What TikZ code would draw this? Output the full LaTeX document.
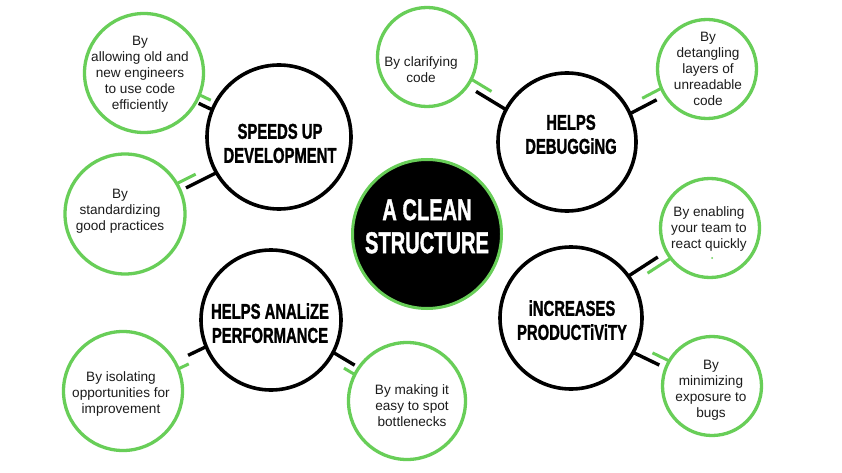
\documentclass[tikz,border=0pt]{standalone}
\usepackage{fontspec}
\setmainfont{Liberation Sans}
\newfontfamily\hubface[BoldFeatures={FakeBold=1.6}]{Liberation Sans}
\usepackage{graphicx}
\usetikzlibrary{calc}
\definecolor{lgreen}{RGB}{104,206,88}
\definecolor{ink}{RGB}{28,28,28}
\newcommand\hubfont{\hubface\fontsize{21.5}{24}\selectfont\bfseries}
\newcommand\hubtxt[2]{\scalebox{0.69}[1]{\begin{tabular}{@{}c@{}}#1\\#2\end{tabular}}}
\newcommand\linkpair[7]{%
  \coordinate (lpa) at ($(#1)!#3!(#2)$);
  \coordinate (lpb) at ($(#1)!#4!(#2)$);
  \coordinate (lpc) at ($(#2)!#5!(#1)$);
  \coordinate (lpd) at ($(#2)!#6!(#1)$);
  \draw[stubb] ($(lpa)!4pt!#7:(#2)$) -- ($(lpb)!4pt!#7:(#2)$);
  \draw[stubg] ($(lpc)!4pt!#7:(#1)$) -- ($(lpd)!4pt!#7:(#1)$);
}
\begin{document}
\begin{tikzpicture}[x=1pt,y=-1pt,
  hub/.style={circle,draw=black,line width=3.6pt,fill=white,inner sep=0pt,outer sep=0pt,minimum size=#1},
  leaf/.style={circle,draw=lgreen,line width=3.3pt,fill=white,inner sep=0pt,outer sep=0pt,minimum size=#1},
  leaftext/.style={align=center,font=\fontsize{13.6}{16}\selectfont,text=ink,inner sep=0pt},
  hubtext/.style={inner sep=0pt,text=black,font=\hubfont},
  stubb/.style={draw=black,line width=3.4pt},
  stubg/.style={draw=lgreen,line width=3pt}]
\fill[white] (0,0) rectangle (842,473);
\useasboundingbox (0,0) rectangle (842,473);

% leaves
\node[leaf=119pt] (allow) at (144,73) {};
\node[leaf=120pt] (stand) at (125,214) {};
\node[leaf=99pt] (clar) at (427,57) {};
\node[leaf=99pt] (detg) at (707,69) {};
\node[leaf=99pt] (enab) at (710,228) {};
\node[leaf=99pt] (mini) at (712,386) {};
\node[leaf=119pt] (isol) at (123,391) {};
\node[leaf=117pt] (make) at (407,401) {};

% hubs
\node[hub=144pt] (su) at (279,137) {};
\node[hub=138pt] (db) at (567,142) {};
\node[hub=140pt] (pf) at (271,320) {};
\node[hub=142pt] (pr) at (571,318) {};
\node[circle,fill=black,draw=lgreen,line width=3pt,inner sep=0pt,minimum size=149pt] (ctr) at (427,234) {};

% connectors
\linkpair{su}{allow}{72pt}{87pt}{59pt}{72pt}{90}
\linkpair{su}{stand}{72pt}{106pt}{60pt}{81pt}{90}
\linkpair{db}{clar}{69pt}{104pt}{49pt}{73pt}{90}
\linkpair{db}{detg}{69pt}{99pt}{49pt}{71pt}{-90}
\linkpair{pr}{enab}{71pt}{106pt}{49pt}{77pt}{90}
\linkpair{pr}{mini}{71pt}{100pt}{49pt}{68pt}{-90}
\linkpair{pf}{isol}{70pt}{90pt}{59pt}{71pt}{-90}
\linkpair{pf}{make}{70pt}{95pt}{58pt}{71pt}{90}

% hub texts
\node[hubtext] (sut) at (280,146) {\hubtxt{SPEEDS UP}{DEVELOPMENT}};
\node[hubtext] (dbt) at (571,137) {\hubtxt{HELPS}{DEBUGGiNG}};
\node[hubtext] (pft) at (270,326) {\hubtxt{HELPS ANALiZE}{PERFORMANCE}};
\node[hubtext] (prt) at (572,323) {\hubtxt{iNCREASES}{PRODUCTiViTY}};
\node[inner sep=0pt,text=white,font=\hubface\fontsize{30}{33}\selectfont\bfseries] (ctt) at (427,230)
  {\scalebox{0.67}[1]{\begin{tabular}{@{}c@{}}A CLEAN\\STRUCTURE\end{tabular}}};

% leaf texts
\node[leaftext] (allowt) at (140,74) {By\\allowing old and\\new engineers\\to use code\\efficiently};
\node[leaftext] (standt) at (120,211) {By\\standardizing\\good practices};
\node[leaftext] (clart) at (421,70) {By clarifying\\code};
\node[leaftext] (detgt) at (708,69) {By\\detangling\\layers of\\unreadable\\code};
\node[leaftext] (enabt) at (709,229) {By enabling\\your team to\\react quickly};
\fill[lgreen] (712,258) circle (1pt);
\node[leaftext] (minit) at (711,390) {By\\minimizing\\exposure to\\bugs};
\node[leaftext] (isolt) at (121,394) {By isolating\\opportunities for\\improvement};
\node[leaftext] (maket) at (412,406) {By making it\\easy to spot\\bottlenecks};
\end{tikzpicture}
\end{document}
